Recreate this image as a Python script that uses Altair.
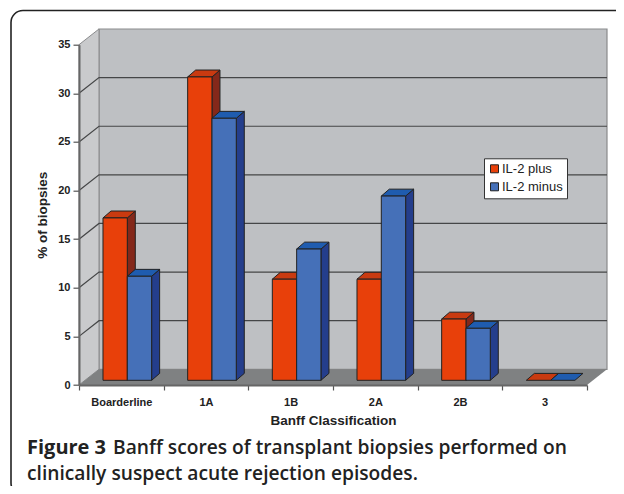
import json
import altair as alt
import pandas as pd

categories = ["Boarderline", "1A", "1B", "2A", "2B", "3"]
il2_plus = [16.7, 31.2, 10.4, 10.4, 6.3, 0.0]
il2_minus = [10.7, 26.95, 13.5, 18.95, 5.35, 0.0]
y_ticks = [0, 5, 10, 15, 20, 25, 30, 35]
series_names = ["IL-2 plus", "IL-2 minus"]

FONT = "Liberation Sans"
CAP_FONT = "Open Sans"
INK = "#222222"
PLOT_W, PLOT_H = 508, 340.3
X = alt.Scale(domain=[0, 6], range=[0, PLOT_W], nice=False, zero=False)
Y = alt.Scale(domain=[0, 35], range=[PLOT_H, 0], nice=False, zero=False)

# depth of the box and of the bars, in data units
WALL_DX, WALL_DY = 0.2362, 1.615
BAR_DX, BAR_DY = 0.0945, 0.71
BAR_BASE = 0.4835
BAR_START, BAR_W = 0.2834, 0.2872

styles = {
    "IL-2 plus": dict(front="#E8400A", top="#C93A10", side="#84281A", shift=0.0, vals=il2_plus),
    "IL-2 minus": dict(front="#4570B8", top="#1F5CAF", side="#243E8C", shift=BAR_W, vals=il2_minus),
}

X_AXIS = alt.Axis(
    values=list(range(7)), title="Banff Classification", titleFont=FONT, titleFontSize=13.5,
    titleFontWeight="bold", titleColor=INK, titlePadding=6,
    labelExpr=json.dumps(categories + [""]) + "[datum.value]", labelOffset=42.3,
    labelBound=False, labelFlush=False, labelOverlap=False, labelFont=FONT, labelFontSize=11,
    labelFontWeight="bold", labelColor=INK, labelPadding=6, tickSize=5, tickColor="#555555",
    tickWidth=1.2, domainColor="#666666", domainWidth=2, grid=False, zindex=1)
Y_AXIS = alt.Axis(
    values=y_ticks, title="% of biopsies", titleFont=FONT, titleFontSize=13.5, titleFontWeight="bold",
    titleColor=INK, titlePadding=8, labelFont=FONT, labelFontSize=11, labelFontWeight="bold",
    labelColor=INK, labelPadding=3, tickSize=6, tickColor="#555555", tickWidth=1.2,
    domainColor="#666666", domainWidth=2, grid=False, zindex=1)


def xq(f="x"):
    return alt.X(f"{f}:Q", scale=X, axis=X_AXIS)


def yq(f="y"):
    return alt.Y(f"{f}:Q", scale=Y, axis=Y_AXIS)


def vert_area(rows, color, stroke=None, sw=1.0):
    kw = dict(stroke=stroke, strokeWidth=sw) if stroke else {}
    return alt.Chart(pd.DataFrame(rows)).mark_area(orient="vertical", color=color, opacity=1, **kw).encode(
        x=xq(), y=yq(), y2=alt.Y2("y2:Q"), detail="k:N"
    )


def horiz_area(rows, color, stroke=None, sw=1.0):
    kw = dict(stroke=stroke, strokeWidth=sw) if stroke else {}
    return alt.Chart(pd.DataFrame(rows)).mark_area(orient="horizontal", color=color, opacity=1, **kw).encode(
        y=yq(), x=xq(), x2=alt.X2("x2:Q"), detail="k:N"
    )


# frame around the whole figure
frame = alt.Chart(pd.DataFrame([{"k": 1}])).mark_rect(
    fill="white", stroke=INK, strokeWidth=1.6, cornerRadius=12
).encode(x=alt.value(-68), x2=alt.value(700), y=alt.value(-34.2), y2=alt.value(450.3))

back_wall = vert_area(
    [{"k": 0, "x": WALL_DX, "y": WALL_DY, "y2": 35 + WALL_DY}, {"k": 0, "x": 6 + WALL_DX, "y": WALL_DY, "y2": 35 + WALL_DY}],
    "#BEC0C3", "#8A8B8D", 1.2)
side_wall = vert_area(
    [{"k": 0, "x": 0, "y": 0, "y2": 35}, {"k": 0, "x": WALL_DX, "y": WALL_DY, "y2": 35 + WALL_DY}],
    "#C9CACC", "#8A8B8D", 1.0)
floor = horiz_area(
    [{"k": 0, "y": 0, "x": 0, "x2": 6}, {"k": 0, "y": WALL_DY, "x": WALL_DX, "x2": 6 + WALL_DX}],
    "#7F8182")

grid_rows = []
for t in y_ticks[1:-1]:
    grid_rows += [
        {"k": t, "x": 0, "y": t},
        {"k": t, "x": WALL_DX, "y": t + WALL_DY},
        {"k": t, "x": 6 + WALL_DX, "y": t + WALL_DY},
    ]
grid = alt.Chart(pd.DataFrame(grid_rows)).mark_line(color="#454647", strokeWidth=1.2).encode(
    x=xq(), y=yq(), detail="k:N", order="x:Q"
)

bar_layers = []
for name in series_names:
    st = styles[name]
    sides, tops, fronts = [], [], []
    for i, v in enumerate(st["vals"]):
        x0 = i + BAR_START + st["shift"]
        x1 = x0 + BAR_W
        low, high = BAR_BASE, v + BAR_BASE
        sides += [{"k": i, "x": x1, "y": low, "y2": high},
                  {"k": i, "x": x1 + BAR_DX, "y": low + BAR_DY, "y2": high + BAR_DY}]
        tops += [{"k": i, "y": high, "x": x0, "x2": x1},
                 {"k": i, "y": high + BAR_DY, "x": x0 + BAR_DX, "x2": x1 + BAR_DX}]
        fronts.append({"k": i, "s": name, "x": x0, "x2": x1, "y": low, "y2": high})
    sides_df = [r for r in sides if r["y2"] - r["y"] > 0]
    bar_layers.append(vert_area(sides_df, st["side"], INK, 1.0))
    bar_layers.append(horiz_area(tops, st["top"], INK, 1.0))
    bar_layers.append(
        alt.Chart(pd.DataFrame([r for r in fronts if r["y2"] > r["y"]])).mark_rect(
            stroke=INK, strokeWidth=1.0, opacity=1
        ).encode(
            x=xq(), x2=alt.X2("x2:Q"), y=yq(), y2=alt.Y2("y2:Q"),
            color=alt.Color("s:N", scale=alt.Scale(domain=series_names, range=[styles[n]["front"] for n in series_names]),
                            legend=alt.Legend(
                                orient="none", legendX=405, legendY=113.6, title=None, fillColor="white",
                                strokeColor="#333333", padding=4, symbolType="square", symbolSize=64,
                                symbolStrokeColor=INK, symbolStrokeWidth=1, labelFont=FONT, labelFontSize=13,
                                labelColor=INK, rowPadding=4, labelOffset=1)),
        )
    )


def caption(text, x, y, weight, size):
    return alt.Chart(pd.DataFrame([{"t": text}])).mark_text(
        font=CAP_FONT, fontSize=size, fontWeight=weight, color=INK, align="left", baseline="alphabetic"
    ).encode(text="t:N", x=alt.value(x), y=alt.value(y))


caps = [
    caption("Figure 3", -52, 409.6, 700, 20),
    caption("Banff scores of transplant biopsies performed on", 34, 409.6, 600, 19.2),
    caption("clinically suspect acute rejection episodes.", -52, 435.3, 600, 19.2),
]

chart = alt.layer(frame, back_wall, side_wall, floor, grid, *bar_layers, *caps).properties(
    width=PLOT_W, height=PLOT_H,
    padding={"left": 71, "top": 36.7, "right": 29, "bottom": 101},
    autosize=alt.AutoSizeParams(type="none"),
    background="white",
).configure_view(stroke=None)

chart.save("out.html", embed_options={"renderer": "svg", "actions": False})
